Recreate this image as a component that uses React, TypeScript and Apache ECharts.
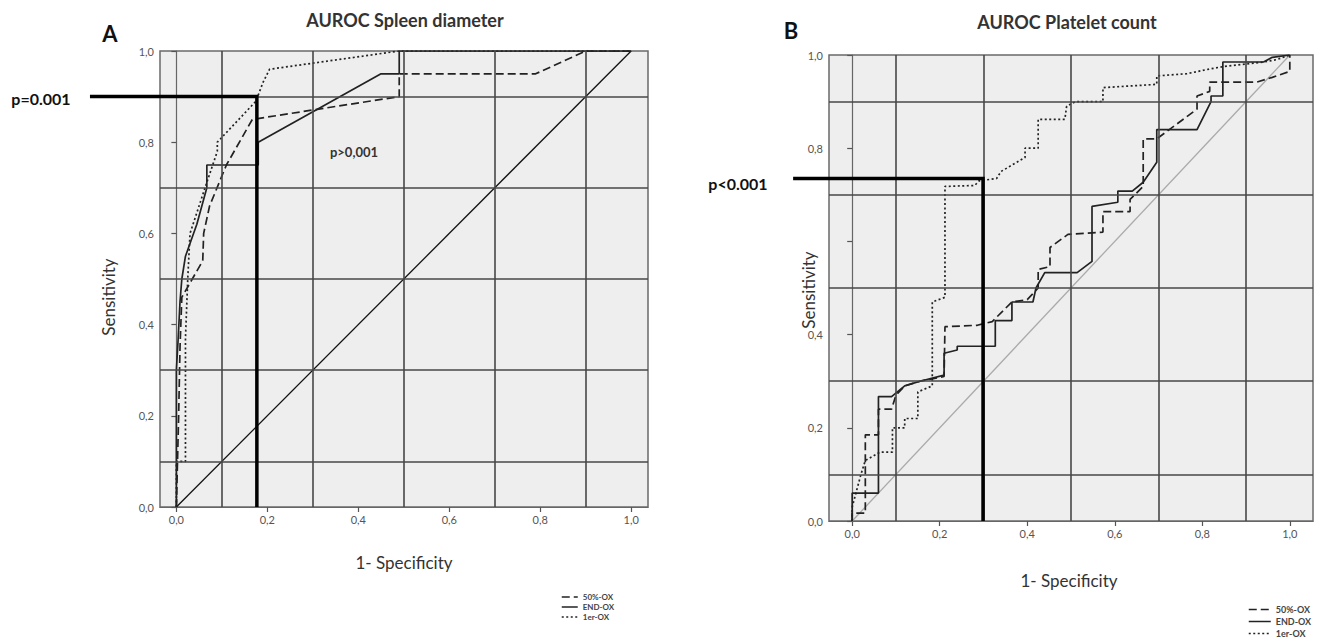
import React, { useEffect, useRef } from 'react';
import * as echarts from 'echarts';

const tickValues = [0, 0.2, 0.4, 0.6, 0.8, 1.0];
const gridValues = [0.1, 0.3, 0.5, 0.7, 0.9];
const seriesNames = ['50%-OX', 'END-OX', '1er-OX'];

// Panel A: AUROC Spleen diameter (x = 1 - specificity, y = sensitivity)
const spleenDashed = [[0, 0], [0.005, 0.2], [0.008, 0.35], [0.012, 0.46], [0.035, 0.5], [0.058, 0.54], [0.06, 0.6], [0.073, 0.66], [0.11, 0.75], [0.167, 0.85], [0.49, 0.9], [0.49, 0.95], [0.79, 0.95], [0.9, 1.0], [1, 1]];
const spleenSolid = [[0, 0], [0, 0.3], [0.004, 0.37], [0.008, 0.45], [0.012, 0.5], [0.02, 0.55], [0.045, 0.62], [0.067, 0.7], [0.067, 0.75], [0.18, 0.75], [0.18, 0.8], [0.45, 0.95], [0.49, 0.95], [0.49, 1], [1, 1]];
const spleenDotted = [[0, 0], [0, 0.1], [0.02, 0.1], [0.02, 0.37], [0.025, 0.5], [0.03, 0.6], [0.063, 0.7], [0.09, 0.78], [0.09, 0.8], [0.175, 0.89], [0.19, 0.93], [0.205, 0.96], [0.49, 1.0], [1, 1]];
const spleenCutoff = [[-0.19, 0.9], [0.177, 0.9], [0.177, 0]];

// Panel B: AUROC Platelet count
const plateletDashed = [[0, 0], [0, 0.017], [0.03, 0.017], [0.03, 0.185], [0.06, 0.185], [0.06, 0.24], [0.09, 0.24], [0.1, 0.27], [0.12, 0.29], [0.155, 0.3], [0.21, 0.31], [0.212, 0.417], [0.286, 0.42], [0.32, 0.428], [0.365, 0.47], [0.4, 0.475], [0.425, 0.5], [0.425, 0.54], [0.452, 0.546], [0.452, 0.587], [0.493, 0.615], [0.573, 0.62], [0.573, 0.664], [0.635, 0.664], [0.635, 0.69], [0.665, 0.718], [0.665, 0.82], [0.696, 0.82], [0.788, 0.884], [0.788, 0.912], [0.817, 0.922], [0.817, 0.942], [0.925, 0.942], [0.96, 0.952], [1, 0.965], [1, 1]];
const plateletSolid = [[0, 0], [0, 0.06], [0.06, 0.06], [0.06, 0.267], [0.09, 0.267], [0.12, 0.29], [0.155, 0.3], [0.21, 0.313], [0.21, 0.36], [0.24, 0.367], [0.24, 0.375], [0.327, 0.375], [0.327, 0.43], [0.365, 0.43], [0.365, 0.47], [0.413, 0.47], [0.42, 0.5], [0.44, 0.533], [0.514, 0.533], [0.548, 0.557], [0.548, 0.675], [0.607, 0.684], [0.607, 0.708], [0.64, 0.708], [0.665, 0.727], [0.696, 0.77], [0.696, 0.84], [0.788, 0.84], [0.82, 0.9], [0.82, 0.912], [0.847, 0.912], [0.847, 0.985], [0.94, 0.985], [0.96, 0.995], [1, 1]];
const plateletDotted = [[0, 0], [0, 0.03], [0.02, 0.1], [0.03, 0.13], [0.064, 0.148], [0.092, 0.148], [0.092, 0.2], [0.12, 0.2], [0.12, 0.22], [0.15, 0.22], [0.15, 0.277], [0.183, 0.29], [0.183, 0.47], [0.212, 0.48], [0.212, 0.718], [0.28, 0.72], [0.29, 0.73], [0.33, 0.735], [0.34, 0.75], [0.395, 0.78], [0.395, 0.8], [0.425, 0.8], [0.425, 0.862], [0.486, 0.862], [0.49, 0.89], [0.51, 0.9], [0.573, 0.9], [0.573, 0.93], [0.696, 0.937], [0.696, 0.955], [0.765, 0.96], [0.817, 0.97], [0.847, 0.975], [0.94, 0.985], [0.97, 0.99], [1, 1]];
const plateletCutoff = [[-0.135, 0.735], [0.299, 0.735], [0.299, 0]];

const diagonal = [[0, 0], [1, 1]];

const FONT = 'Lato, "Open Sans", sans-serif';
const LINE = '#222';
const fmt = (v: number) => v.toFixed(1).replace('.', ',');

function xAxisDef(gridIndex: number, min: number, max: number) {
  return {
    type: 'value', gridIndex, min, max,
    axisLine: { show: true, lineStyle: { color: '#666', width: 1.2 } },
    axisTick: { show: true, length: 5, customValues: tickValues, lineStyle: { color: '#555', width: 1.2 } },
    axisLabel: { customValues: tickValues, formatter: fmt, color: '#555', fontSize: 11, fontFamily: FONT, margin: 7 },
    splitLine: { show: false },
  };
}
function yAxisDef(gridIndex: number, hide06: boolean) {
  return {
    type: 'value', gridIndex, min: 0, max: 1, interval: 0.2,
    axisLine: { show: true, lineStyle: { color: '#666', width: 1.2 } },
    axisTick: { show: true, length: 5, lineStyle: { color: '#555', width: 1.2 } },
    axisLabel: {
      formatter: (v: number) => (hide06 && Math.abs(v - 0.6) < 1e-6 ? '' : fmt(v)),
      color: '#555', fontSize: 11, fontFamily: FONT, margin: 6,
    },
    splitLine: { show: false },
  };
}

function panelSeries(idx: number, dashed: number[][], solid: number[][], dotted: number[][], diagColor: string) {
  const base = { type: 'line', xAxisIndex: idx, yAxisIndex: idx, symbol: 'none', silent: true, color: LINE };
  return [
    {
      ...base, name: 'grid' + idx, data: [], z: 1,
      markLine: {
        silent: true, symbol: ['none', 'none'], label: { show: false },
        lineStyle: { color: '#474747', width: 1.6, type: 'solid' },
        data: [...gridValues.map((v) => ({ xAxis: v })), ...gridValues.map((v) => ({ yAxis: v }))],
      },
    },
    { ...base, name: 'diag' + idx, data: diagonal, z: 2, lineStyle: { color: diagColor, width: 1.3 } },
    { ...base, name: seriesNames[0], data: dashed, z: 3, lineStyle: { color: LINE, width: 1.7, type: [8, 4] } },
    { ...base, name: seriesNames[1], data: solid, z: 3, lineStyle: { color: LINE, width: 1.7, type: 'solid' } },
    { ...base, name: seriesNames[2], data: dotted, z: 3, lineStyle: { color: LINE, width: 1.7, type: [2, 2.5] } },
  ];
}

function txt(x: number, y: number, text: string, font: string, fill = '#222', extra: any = {}) {
  return { type: 'text', x, y, silent: true, ...extra, style: { text, font, fill, align: 'center', verticalAlign: 'middle' } };
}

export default function App() {
  const ref = useRef<HTMLDivElement>(null);
  useEffect(() => {
    if (!ref.current) return;
    const chart = echarts.init(ref.current, undefined, { renderer: 'svg' });
    const gridStyle = { show: true, backgroundColor: '#eeeeee', borderColor: '#6a6a6a', borderWidth: 1.5, containLabel: false };
    const legendBase = {
      data: seriesNames, orient: 'vertical', selectedMode: false,
      itemStyle: { color: 'transparent', borderWidth: 0, opacity: 0 },
      lineStyle: { color: LINE, width: 1.5 },
    };
    chart.setOption({
      animation: false,
      grid: [
        { ...gridStyle, left: 160, top: 51, width: 488, height: 456 },
        { ...gridStyle, left: 829, top: 55, width: 484, height: 466 },
      ],
      xAxis: [xAxisDef(0, -0.036, 1.037), xAxisDef(1, -0.053, 1.053)],
      yAxis: [yAxisDef(0, false), yAxisDef(1, true)],
      legend: [
        {
          ...legendBase, left: 556, top: 588, itemWidth: 16, itemHeight: 8, itemGap: 2,
          textStyle: { fontSize: 8, fontWeight: 'bold', color: '#444', fontFamily: FONT },
        },
        {
          ...legendBase, left: 1243, top: 600, itemWidth: 22, itemHeight: 8, itemGap: 3,
          textStyle: { fontSize: 9, fontWeight: 'bold', color: '#444', fontFamily: FONT },
        },
      ],
      series: [
        ...panelSeries(0, spleenDashed, spleenSolid, spleenDotted, '#111'),
        ...panelSeries(1, plateletDashed, plateletSolid, plateletDotted, '#aaaaaa'),
      ],
    });
    const toPx = (grid: number, pts: number[][]) => pts.map((p) => chart.convertToPixel({ gridIndex: grid }, p) as number[]);
    chart.setOption({
      graphic: [
        { type: 'polyline', silent: true, z: 50, shape: { points: toPx(0, spleenCutoff) }, style: { stroke: '#000', lineWidth: 3.5, fill: null } },
        { type: 'polyline', silent: true, z: 50, shape: { points: toPx(1, plateletCutoff) }, style: { stroke: '#000', lineWidth: 3.5, fill: null } },
        txt(110, 33, 'A', `bold 22px ${FONT}`, '#111'),
        txt(405, 20, 'AUROC Spleen diameter', `bold 18px ${FONT}`, '#333'),
        txt(41, 98, 'p=0.001', `bold 16px ${FONT}`, '#111'),
        txt(354, 152, 'p>0,001', `bold 13px ${FONT}`, '#333'),
        txt(108, 297, 'Sensitivity', `17px ${FONT}`, '#333', { rotation: Math.PI / 2 }),
        txt(404, 562, '1- Specificity', `17px ${FONT}`, '#333'),
        txt(791, 30, 'B', `bold 22px ${FONT}`, '#111'),
        txt(1067, 22, 'AUROC Platelet count', `bold 18px ${FONT}`, '#333'),
        txt(738, 183, 'p<0.001', `bold 16px ${FONT}`, '#111'),
        txt(808, 290, 'Sensitivity', `17px ${FONT}`, '#333', { rotation: Math.PI / 2 }),
        txt(1069, 580, '1- Specificity', `17px ${FONT}`, '#333'),
      ],
    });
    return () => chart.dispose();
  }, []);
  return <div ref={ref} style={{ position: 'absolute', left: 0, top: 0, width: 1328, height: 643, background: '#fff' }} />;
}
